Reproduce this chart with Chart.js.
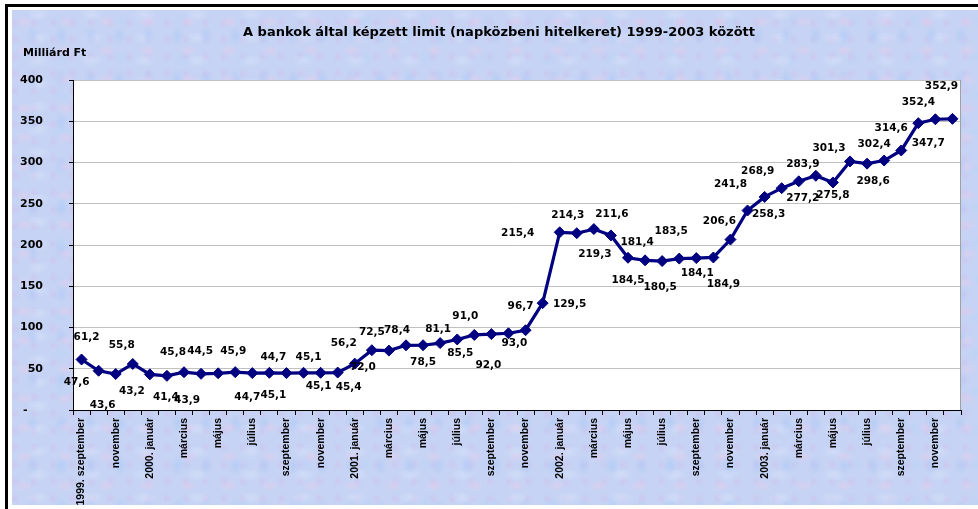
<!DOCTYPE html>
<html><head><meta charset="utf-8">
<script src="https://cdn.jsdelivr.net/npm/chart.js@4.4.1/dist/chart.umd.min.js"></script>
<style>
html,body{margin:0;padding:0;background:#fff;width:978px;height:509px;overflow:hidden;}
#frame{position:absolute;left:5px;top:4px;width:973px;height:505px;border-left:3px solid #000;border-top:3px solid #000;box-sizing:border-box;}
#tex{position:absolute;left:12px;top:10px;width:966px;height:495px;background-color:#c6d3f4;
background-image:
 radial-gradient(9px 6px at 30% 40%, rgba(228,204,236,.55), rgba(228,204,236,0)),
 radial-gradient(7px 10px at 70% 60%, rgba(172,200,246,.55), rgba(172,200,246,0)),
 radial-gradient(12px 7px at 50% 20%, rgba(218,228,250,.5), rgba(218,228,250,0)),
 radial-gradient(6px 6px at 15% 75%, rgba(208,190,234,.45), rgba(208,190,234,0)),
 radial-gradient(10px 8px at 80% 30%, rgba(182,212,248,.45), rgba(182,212,248,0));
background-size:41px 29px,29px 43px,53px 23px,19px 17px,61px 37px;}
#c{position:absolute;left:0;top:0;}
</style></head><body>
<div id="frame"></div><div id="tex"></div>
<canvas id="c" width="978" height="509"></canvas>
<script>
const titleText = 'A bankok által képzett limit (napközbeni hitelkeret) 1999-2003 között';
const unitText = 'Milliárd Ft';
const categories = [
 '1999. szeptember','október','november','december',
 '2000. január','február','március','április','május','június','július','augusztus','szeptember','október','november','december',
 '2001. január','február','március','április','május','június','július','augusztus','szeptember','október','november','december',
 '2002. január','február','március','április','május','június','július','augusztus','szeptember','október','november','december',
 '2003. január','február','március','április','május','június','július','augusztus','szeptember','október','november','december'
];
const values = [
 61.2, 47.6, 43.6, 55.8,
 43.2, 41.4, 45.8, 43.9, 44.5, 45.9, 44.7, 45.1, 44.7, 45.1, 45.1, 45.4,
 56.2, 72.5, 72.0, 78.4, 78.5, 81.1, 85.5, 91.0, 92.0, 93.0, 96.7, 129.5,
 215.4, 214.3, 219.3, 211.6, 184.5, 181.4, 180.5, 183.5, 184.1, 184.9, 206.6, 241.8,
 258.3, 268.9, 277.2, 283.9, 275.8, 301.3, 298.6, 302.4, 314.6, 347.7, 352.4, 352.9
];
const yTicks = [0, 50, 100, 150, 200, 250, 300, 350, 400];

// label offsets (layout only) relative to each point
const labelOffsets = [
 [5,-22],[-22,12],[-13,31],[-11,-19],
 [-18,17],[-1,21],[-11,-20],[-14,26],[-18,-22],[-2,-21],[-5,24],[4,22],[-13,-16],[5,-16],[-2,13],[11,15],
 [-11,-20],[0,-18],[-26,17],[-9,-15],[0,17],[-2,-14],[3,14],[-9,-19],[-3,31],[6,10],[-5,-24],[27,1],
 [-42,1],[-9,-18],[1,25],[1,-21],[0,22],[-8,-18],[-2,26],[-8,-27],[1,15],[10,27],[-11,-18],[-17,-26],
 [4,17],[-24,-17],[4,17],[-13,-12],[0,13],[-21,-13],[6,18],[-10,-16],[-10,-22],[10,20],[-17,-17],[-11,-33]
];

const WIDE = '"DejaVu Sans", Verdana, sans-serif';
const ARIAL = 'Arial, "Liberation Sans", sans-serif';

const fmt = v => v.toFixed(1).replace('.', ',');

const bgPlugin = {
 id:'bg',
 beforeDraw(chart){
  const {ctx, chartArea:a} = chart;
  ctx.save(); ctx.fillStyle='#fff';
  ctx.fillRect(a.left, a.top, a.right-a.left, a.bottom-a.top);
  ctx.restore();
 },
 beforeDatasetsDraw(chart){
  const {ctx, chartArea:a} = chart;
  ctx.save(); ctx.strokeStyle='#a0a0a0'; ctx.lineWidth=1;
  ctx.beginPath(); ctx.moveTo(Math.round(a.right)-0.5, a.top); ctx.lineTo(Math.round(a.right)-0.5, a.bottom); ctx.stroke();
  ctx.restore();
 }
};

const labelPlugin = {
 id:'vlabels',
 afterDatasetsDraw(chart){
  const {ctx} = chart;
  const meta = chart.getDatasetMeta(0);
  ctx.save();
  ctx.font = 'bold 10.5px ' + WIDE;
  ctx.fillStyle = '#000';
  ctx.textAlign = 'center';
  ctx.textBaseline = 'middle';
  meta.data.forEach((pt, i) => {
   const o = labelOffsets[i] || [0,-15];
   ctx.fillText(fmt(values[i]), pt.x + o[0], pt.y + o[1]);
  });
  ctx.restore();
 }
};

const textPlugin = {
 id:'texts',
 afterDraw(chart){
  const {ctx} = chart;
  ctx.save();
  ctx.fillStyle = '#000';
  ctx.textBaseline = 'middle';
  ctx.font = 'bold 13px ' + WIDE;
  ctx.textAlign = 'center';
  ctx.fillText(titleText, 499, 33);
  ctx.font = 'bold 11px ' + WIDE;
  ctx.textAlign = 'left';
  ctx.fillText(unitText, 23, 53);
  ctx.restore();
 }
};

new Chart(document.getElementById('c'), {
 type:'line',
 data:{
  labels: categories,
  datasets:[{
   data: values,
   borderColor:'#000080', backgroundColor:'#000080',
   borderWidth:3.2, tension:0, fill:false,
   pointStyle:'rectRot', pointRadius:5.5, pointBorderWidth:1,
   pointBackgroundColor:'#000080', pointBorderColor:'#000080'
  }]
 },
 options:{
  responsive:false, animation:false, devicePixelRatio:1,
  layout:{padding:{left:0, right:17, top:80, bottom:0}},
  plugins:{legend:{display:false}, title:{display:false}, tooltip:{enabled:false}},
  scales:{
   x:{
    offset:true,
    grid:{offset:true, display:true, drawOnChartArea:false, drawTicks:true, tickLength:5, tickColor:'#000'},
    border:{color:'#000', width:1},
    ticks:{autoSkip:false, maxRotation:90, minRotation:90, padding:3, color:'#000',
      font:{family:ARIAL, size:10.5, weight:'bold'},
      callback:(v,i)=> i%2===0 ? categories[i] : ''},
    afterFit:s=>{s.height=99;}
   },
   y:{
    min:yTicks[0], max:yTicks[yTicks.length-1],
    afterBuildTicks:s=>{s.ticks = yTicks.map(v=>({value:v}));},
    ticks:{padding:26, color:'#000', font:{family:WIDE, size:11, weight:'bold'},
      callback:v=> v===0 ? '-    ' : String(v)},
    grid:{color:'#c0c0c0', tickColor:'#000', tickLength:4, lineWidth:1},
    border:{color:'#000', width:1},
    afterFit:s=>{s.width=73;}
   }
  }
 },
 plugins:[bgPlugin, labelPlugin, textPlugin]
});
</script>
</body></html>
